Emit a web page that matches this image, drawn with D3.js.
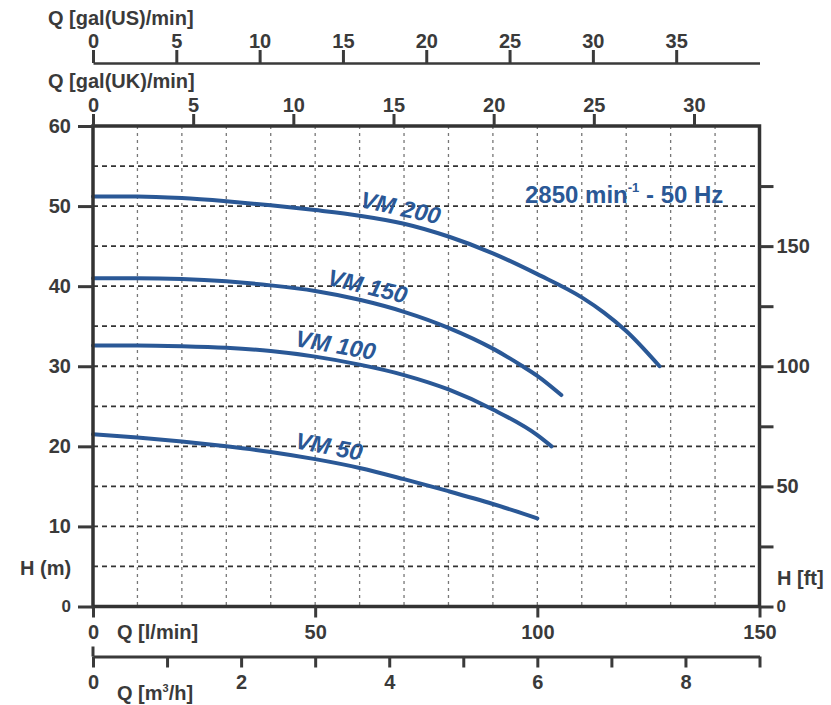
<!DOCTYPE html>
<html lang="en">
<head>
	<meta charset="utf-8">
	<title>VM pump curves 2850 min-1 50 Hz</title>
	<script src="https://cdn.jsdelivr.net/npm/d3@7"></script>
	<style>
		body { margin: 0; background: #fff; }
		svg text { font-family: "Liberation Sans", Arial, sans-serif; font-weight: bold; fill: #3a3a3a; }
		.axis text { font-size: 20px; }
		.axis line { stroke: #3a3a3a; stroke-width: 3; }
		.axis path { stroke: #3a3a3a; }
	</style>
</head>
<body>
<div id="vizContainer"></div>
<script>
// ---------- data ----------
var seriesNames = ["VM 200", "VM 150", "VM 100", "VM 50"];

// flow in l/min, head in m
var vm200Flow = [0, 10, 20, 30, 40, 50, 60, 70, 80, 90, 100, 110, 115, 120, 127.5];
var vm200Head = [51.2, 51.2, 51.0, 50.6, 50.1, 49.5, 48.8, 47.8, 46.2, 44.1, 41.5, 38.6, 36.7, 34.4, 30.0];

var vm150Flow = [0, 10, 20, 30, 40, 50, 60, 70, 80, 90, 96.4, 100, 105.4];
var vm150Head = [41.0, 41.0, 40.9, 40.6, 40.1, 39.4, 38.3, 36.8, 34.8, 32.2, 30.1, 28.8, 26.4];

var vm100Flow = [0, 10, 20, 30, 40, 50, 60, 70, 80, 90, 100, 103.2];
var vm100Head = [32.6, 32.6, 32.5, 32.3, 31.9, 31.2, 30.2, 28.9, 27.1, 24.6, 21.4, 20.0];

var vm50Flow = [0, 10, 20, 30, 40, 50, 60, 70, 80, 90, 100];
var vm50Head = [21.5, 21.1, 20.6, 20.0, 19.3, 18.4, 17.3, 15.9, 14.4, 12.8, 11.0];

// flow where each curve name sits
var labelFlow = [68.5, 61, 54, 52.5];

// tick values
var headTicks = [0, 10, 20, 30, 40, 50, 60];
var headGrid = [5, 10, 15, 20, 25, 30, 35, 40, 45, 50, 55];
var flowGrid = [10, 20, 30, 40, 50, 60, 70, 80, 90, 100, 110, 120, 130, 140];
var flowTicks = [0, 50, 100, 150];
var ftTicks = [0, 25, 50, 75, 100, 125, 150, 175];
var ftLabels = [0, 50, 100, 150];
var galUSTicks = [0, 5, 10, 15, 20, 25, 30, 35];
var galUKTicks = [0, 5, 10, 15, 20, 25, 30];
var m3hTicks = [0, 1, 2, 3, 4, 5, 6, 7, 8, 9];
var m3hLabels = [0, 2, 4, 6, 8];

var series = [
	{ name: seriesNames[0], flow: vm200Flow, head: vm200Head },
	{ name: seriesNames[1], flow: vm150Flow, head: vm150Head },
	{ name: seriesNames[2], flow: vm100Flow, head: vm100Head },
	{ name: seriesNames[3], flow: vm50Flow, head: vm50Head }
];

// ---------- canvas ----------
var width = 831, height = 705;
// (plotTop, not top: window.top is read only)
var plotLeft = 93, plotRight = 759.5, plotTop = 126, plotBottom = 606.5;
var blue = "#2a5896";

var svgCanvas = d3.select("#vizContainer").append("svg")
	.attr("width", width)
	.attr("height", height);

var xScale = d3.scaleLinear().domain([0, 150]).range([plotLeft, plotRight]);
var yScale = d3.scaleLinear().domain([0, 60]).range([plotBottom, plotTop]);
var ftScale = d3.scaleLinear().domain([0, 200]).range([plotBottom, plotTop]);
var usScale = d3.scaleLinear().domain([0, 40]).range([plotLeft, plotRight]);
var ukScale = d3.scaleLinear().domain([0, 33.27]).range([plotLeft, plotRight]);
var m3hScale = d3.scaleLinear().domain([0, 9]).range([plotLeft, plotRight]);

// grid
svgCanvas.append("g").selectAll("line")
	.data(flowGrid)
	.enter().append("line")
	.attr("x1", function(d){ return xScale(d); })
	.attr("x2", function(d){ return xScale(d); })
	.attr("y1", plotTop)
	.attr("y2", plotBottom)
	.attr("stroke", "#777")
	.attr("stroke-width", 1.3)
	.attr("stroke-dasharray", "3,4");

svgCanvas.append("g").selectAll("line")
	.data(headGrid)
	.enter().append("line")
	.attr("x1", plotLeft)
	.attr("x2", plotRight)
	.attr("y1", function(d){ return yScale(d); })
	.attr("y2", function(d){ return yScale(d); })
	.attr("stroke", "#333")
	.attr("stroke-width", 1.8)
	.attr("stroke-dasharray", "5,4");

// curves
var line = d3.line()
	.x(function(d){ return xScale(d[0]); })
	.y(function(d){ return yScale(d[1]); })
	.curve(d3.curveMonotoneX);

svgCanvas.append("g").selectAll("path")
	.data(series)
	.enter().append("path")
	.attr("d", function(s){ return line(d3.zip(s.flow, s.head)); })
	.attr("fill", "none")
	.attr("stroke", blue)
	.attr("stroke-width", 4)
	.attr("stroke-linecap", "round");

// curve names, laid along the curve
function headAt(s, q){
	return d3.scaleLinear().domain(s.flow).range(s.head)(q);
}
svgCanvas.append("g").selectAll("text")
	.data(series)
	.enter().append("text")
	.attr("transform", function(s, i){
		var q = labelFlow[i];
		var px = xScale(q), py = yScale(headAt(s, q));
		var dx = xScale(q + 5) - xScale(q - 5);
		var dy = yScale(headAt(s, q + 5)) - yScale(headAt(s, q - 5));
		var ang = Math.atan2(dy, dx) * 180 / Math.PI;
		return "translate(" + px + "," + py + ") rotate(" + ang + ") translate(0,-7)";
	})
	.attr("text-anchor", "middle")
	.style("font-size", "23.5px")
	.style("font-style", "italic")
	.style("fill", blue)
	.text(function(s){ return s.name; });

// frame
svgCanvas.append("rect")
	.attr("x", plotLeft).attr("y", plotTop)
	.attr("width", plotRight - plotLeft).attr("height", plotBottom - plotTop)
	.attr("fill", "none")
	.attr("stroke", "#333")
	.attr("stroke-width", 3.5);

// ---------- axes ----------
var leftAxis = svgCanvas.append("g").attr("class", "axis")
	.attr("transform", "translate(" + plotLeft + ",0)")
	.call(d3.axisLeft(yScale).tickValues(headTicks).tickSize(15).tickPadding(7));

var rightAxis = svgCanvas.append("g").attr("class", "axis")
	.attr("transform", "translate(" + plotRight + ",0)")
	.call(d3.axisRight(ftScale).tickValues(ftTicks).tickSize(14).tickPadding(3)
		.tickFormat(function(d){ return ftLabels.indexOf(d) >= 0 ? d : ""; }));

var bottomAxis = svgCanvas.append("g").attr("class", "axis")
	.attr("transform", "translate(0," + plotBottom + ")")
	.call(d3.axisBottom(xScale).tickValues(flowTicks).tickSize(11).tickPadding(7));

var ukAxis = svgCanvas.append("g").attr("class", "axis")
	.attr("transform", "translate(0," + plotTop + ")")
	.call(d3.axisTop(ukScale).tickValues(galUKTicks).tickSize(12).tickPadding(2));

var usAxis = svgCanvas.append("g").attr("class", "axis")
	.attr("transform", "translate(0,63)")
	.call(d3.axisTop(usScale).tickValues(galUSTicks).tickSize(13).tickPadding(2).tickSizeOuter(0));

var m3hAxis = svgCanvas.append("g").attr("class", "axis")
	.attr("transform", "translate(0,656.5)")
	.call(d3.axisBottom(m3hScale).tickValues(m3hTicks).tickSize(11).tickPadding(7).tickSizeOuter(0)
		.tickFormat(function(d){ return m3hLabels.indexOf(d) >= 0 ? d : ""; }));

// the zero tick of the m3/h axis also sticks up a little
m3hAxis.append("line")
	.attr("x1", m3hScale(0)).attr("x2", m3hScale(0))
	.attr("y1", -10).attr("y2", 0);

// frame already drawn, so drop those domain lines
[leftAxis, rightAxis, bottomAxis, ukAxis].forEach(function(a){ a.select(".domain").remove(); });
usAxis.select(".domain").attr("stroke-width", 2.5);
m3hAxis.select(".domain").attr("stroke-width", 3);

// corner zeros are smaller
leftAxis.selectAll(".tick text").filter(function(d){ return d === 0; }).style("font-size", "17px");
rightAxis.selectAll(".tick text").filter(function(d){ return d === 0; }).style("font-size", "17px");

// axis titles
var titles = [
	{ t: "Q [gal(US)/min]", x: 48, y: 25 },
	{ t: "Q [gal(UK)/min]", x: 48, y: 88 },
	{ t: "H (m)", x: 20, y: 575 },
	{ t: "H [ft]", x: 777, y: 585 },
	{ t: "Q [l/min]", x: 117, y: 639 }
];
svgCanvas.append("g").selectAll("text")
	.data(titles)
	.enter().append("text")
	.attr("x", function(d){ return d.x; })
	.attr("y", function(d){ return d.y; })
	.style("font-size", "20px")
	.text(function(d){ return d.t; });

var m3Title = svgCanvas.append("text").attr("x", 117).attr("y", 700).style("font-size", "20px");
m3Title.append("tspan").text("Q [m");
m3Title.append("tspan").attr("dy", -8).style("font-size", "11px").text("3");
m3Title.append("tspan").attr("dy", 8).text("/h]");

var speed = svgCanvas.append("text").attr("x", 525).attr("y", 203)
	.style("font-size", "24px").style("fill", blue);
speed.append("tspan").text("2850 min");
speed.append("tspan").attr("dy", -11).style("font-size", "13px").text("-1");
speed.append("tspan").attr("dy", 11).text(" - 50 Hz");
</script>
</body>
</html>
